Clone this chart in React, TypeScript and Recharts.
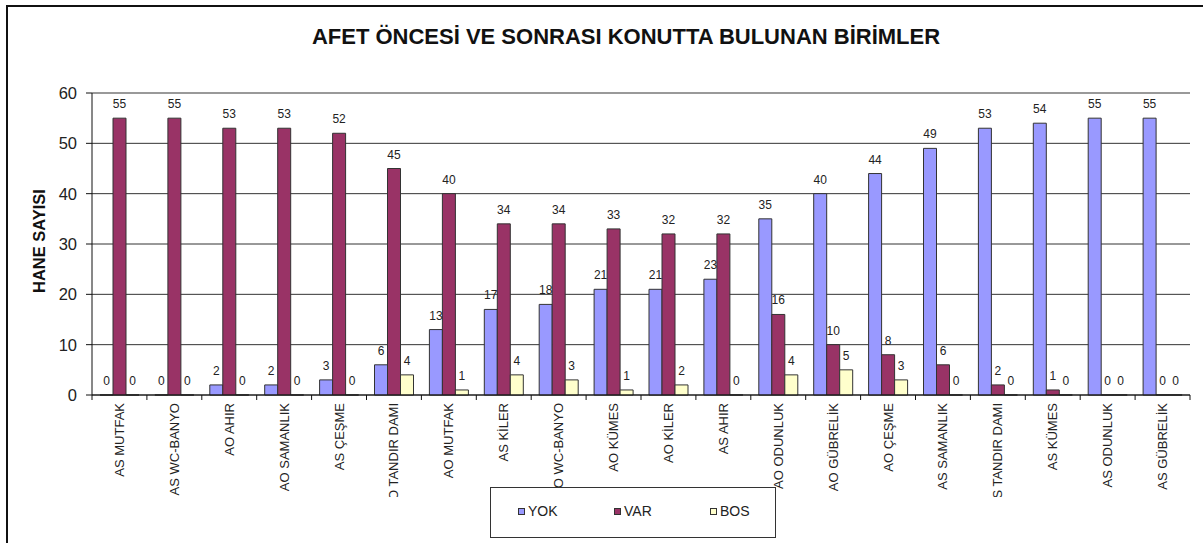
import { Bar, BarChart, CartesianGrid, LabelList, Legend, ReferenceLine, XAxis, YAxis } from "recharts";

const FONT = "'Liberation Sans', Arial, sans-serif";

const CATEGORIES = [
  "AS MUTFAK",
  "AS WC-BANYO",
  "AO AHIR",
  "AO SAMANLIK",
  "AS ÇEŞME",
  "AO TANDIR DAMI",
  "AO MUTFAK",
  "AS KİLER",
  "AO WC-BANYO",
  "AO KÜMES",
  "AO KİLER",
  "AS AHIR",
  "AO ODUNLUK",
  "AO GÜBRELİK",
  "AO ÇEŞME",
  "AS SAMANLIK",
  "AS TANDIR DAMI",
  "AS KÜMES",
  "AS ODUNLUK",
  "AS GÜBRELİK",
];

const YOK = [0, 0, 2, 2, 3, 6, 13, 17, 18, 21, 21, 23, 35, 40, 44, 49, 53, 54, 55, 55];
const VAR = [55, 55, 53, 53, 52, 45, 40, 34, 34, 33, 32, 32, 16, 10, 8, 6, 2, 1, 0, 0];
const BOS = [0, 0, 0, 0, 0, 4, 1, 4, 3, 1, 2, 0, 4, 5, 3, 0, 0, 0, 0, 0];

const Y_TICKS = [0, 10, 20, 30, 40, 50, 60];

const SERIES = [
  { key: "YOK", color: "#9999FF" },
  { key: "VAR", color: "#993366" },
  { key: "BOS", color: "#FFFFCC" },
];

const data = CATEGORIES.map((name, i) => ({ name, YOK: YOK[i], VAR: VAR[i], BOS: BOS[i] }));

// plot geometry
const W = 1203;
const H = 543;
const PLOT_LEFT = 92;
const PLOT_RIGHT = 1190;
const BAND = (PLOT_RIGHT - PLOT_LEFT) / CATEGORIES.length;

function CatTick(props: any) {
  const { x, y, payload, index } = props;
  const id = `xclip-${index}`;
  return (
    <g>
      <defs>
        <clipPath id={id}>
          <rect x={x - 30} y={y} width={60} height={102} />
        </clipPath>
      </defs>
      <line x1={x - BAND / 2} x2={x - BAND / 2} y1={y} y2={y + 5} stroke="#111" />
      {index === CATEGORIES.length - 1 && (
        <line x1={x + BAND / 2} x2={x + BAND / 2} y1={y} y2={y + 5} stroke="#111" />
      )}
      <g clipPath={`url(#${id})`}>
        <text
          transform={`translate(${x + 4.5},${y + 8}) rotate(-90)`}
          textAnchor="end"
          fontSize={13}
          fontFamily={FONT}
          fill="#222"
        >
          {payload.value}
        </text>
      </g>
    </g>
  );
}

// legend drawn in series order, in the boxed Excel style
function LegendBox() {
  return (
    <div
      style={{
        width: 286,
        height: 51,
        boxSizing: "border-box",
        border: "1.5px solid #333",
        background: "#fff",
        position: "relative",
        fontFamily: FONT,
        fontSize: 14,
        color: "#222",
      }}
    >
      {SERIES.map((s, i) => (
        <div
          key={s.key}
          style={{ position: "absolute", left: 27 + i * 96, top: 15, display: "flex", alignItems: "center" }}
        >
          <span
            style={{
              display: "inline-block",
              width: 5,
              height: 5,
              background: s.color,
              border: "1px solid #333",
              marginRight: 3,
            }}
          />
          {s.key}
        </div>
      ))}
    </div>
  );
}

export default function App() {
  return (
    <div
      style={{
        position: "fixed",
        left: 0,
        top: 0,
        width: W,
        height: H,
        background: "#fff",
        overflow: "hidden",
      }}
    >
      <div
        style={{
          position: "absolute",
          left: 6,
          top: 5,
          width: W + 20,
          height: H + 20,
          borderLeft: "2px solid #111",
          borderTop: "2px solid #111",
        }}
      />
      <div
        style={{
          position: "absolute",
          left: 0,
          width: 1252,
          top: 25,
          textAlign: "center",
          fontFamily: FONT,
          fontWeight: "bold",
          fontSize: 22,
          lineHeight: "24px",
          color: "#111",
        }}
      >
        AFET ÖNCESİ VE SONRASI KONUTTA BULUNAN BİRİMLER
      </div>
      <div style={{ position: "absolute", left: 0, top: 0 }}>
        <BarChart
          width={W}
          height={H}
          data={data}
          margin={{ top: 93, right: W - PLOT_RIGHT, bottom: 38, left: PLOT_LEFT - 60 }}
          barCategoryGap={8}
          barGap={0}
        >
          <CartesianGrid vertical={false} stroke="#333" strokeOpacity={1} />
          <XAxis
            dataKey="name"
            interval={0}
            height={110}
            tickSize={0}
            tickMargin={0}
            tick={<CatTick />}
            axisLine={{ stroke: "#111" }}
            tickLine={false}
          />
          <YAxis
            domain={[0, 60]}
            ticks={Y_TICKS}
            width={60}
            tickSize={6}
            tickMargin={9}
            axisLine={{ stroke: "#111" }}
            tickLine={{ stroke: "#111" }}
            tick={{ fontSize: 16.5, fontFamily: FONT, fill: "#222" }}
            label={{
              value: "HANE SAYISI",
              content: (p: any) => {
                const vb = p.viewBox || { x: 32, y: 93, width: 60, height: 302 };
                const cx = vb.x + 6.5;
                const cy = vb.y + vb.height / 2 - 3;
                return (
                  <text
                    x={cx}
                    y={cy}
                    transform={`rotate(-90, ${cx}, ${cy})`}
                    textAnchor="middle"
                    dominantBaseline="central"
                    fontFamily={FONT}
                    fontWeight="bold"
                    fontSize={16.5}
                    fill="#111"
                  >
                    HANE SAYISI
                  </text>
                );
              },
            }}
          />
          <YAxis
            yAxisId="frame"
            orientation="right"
            width={0}
            domain={[0, 60]}
            tick={false}
            tickLine={false}
            axisLine={{ stroke: "#999" }}
          />
          <ReferenceLine y={60} stroke="#999" />
          <Legend
            layout="horizontal"
            verticalAlign="middle"
            align="center"
            content={<LegendBox />}
            wrapperStyle={{ left: 490, top: 487, width: 286, height: 51 }}
          />
          {SERIES.map((s) => (
            <Bar
              key={s.key}
              dataKey={s.key}
              fill={s.color}
              stroke="#333"
              strokeWidth={1}
              minPointSize={0.01}
              isAnimationActive={false}
            >
              <LabelList
                dataKey={s.key}
                position="top"
                offset={10}
                fontSize={12}
                fontFamily={FONT}
                fill="#222"
              />
            </Bar>
          ))}
        </BarChart>
      </div>
    </div>
  );
}
